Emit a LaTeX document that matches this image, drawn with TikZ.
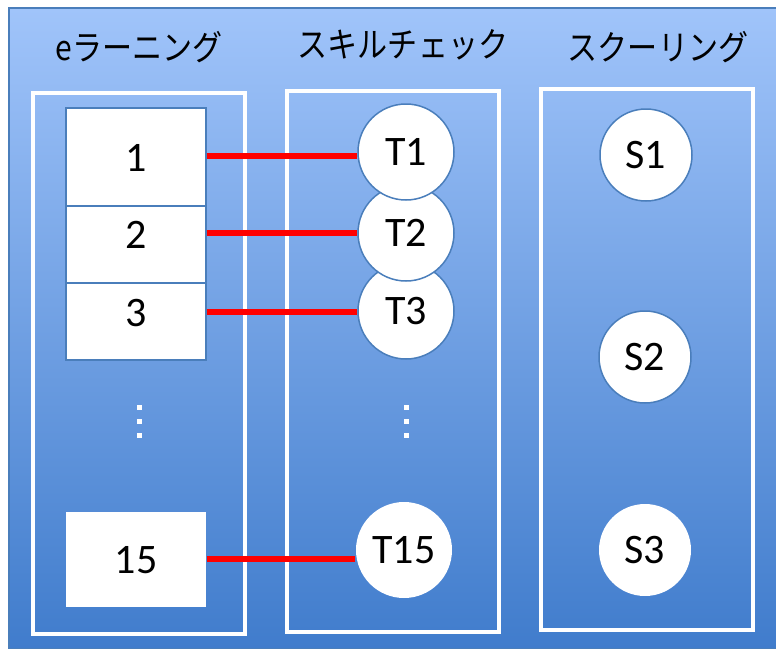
\documentclass[tikz,border=0pt]{standalone}
\usepackage{fontspec}
\usepackage{graphicx}
\setmainfont{Carlito}
\newfontfamily\jp{Noto Sans CJK JP}
\definecolor{bgtop}{RGB}{160,196,250}
\definecolor{bgbot}{RGB}{64,124,204}
\definecolor{edge}{RGB}{74,126,187}
\definecolor{redline}{RGB}{255,0,0}
\newcommand{\headtext}[1]{\scalebox{0.97}[1.12]{\jp\fontsize{31}{33}\selectfont #1}}
\tikzset{
  colframe/.style={draw=white, line width=4pt, minimum width=212pt, minimum height=541pt, inner sep=0pt},
  heading/.style={inner sep=0pt},
  lesson/.style={draw=edge, line width=1.2pt, fill=white, minimum width=140pt, inner sep=0pt},
  num/.style={font=\fontsize{42}{46}\selectfont, inner sep=0pt},
  test/.style={circle, draw=edge, line width=1.5pt, fill=white, minimum size=96pt, inner sep=0pt, font=\fontsize{42}{46}\selectfont},
  link/.style={draw=redline, line width=5.5pt},
  dotmark/.style={fill=white}
}
\begin{document}
\begin{tikzpicture}[x=1pt,y=-1pt]
\useasboundingbox (0,0) rectangle (776,648);
\fill[white] (0,0) rectangle (776,648);
\shade[top color=bgtop, bottom color=bgbot, draw=edge, line width=2pt] (9,8) rectangle (777,649);
% headings
\node[heading] (hA) at (139,47) {\headtext{eラーニング}};
\node[heading] (hB) at (403,45) {\headtext{スキルチェック}};
\node[heading] (hC) at (658,47) {\headtext{スクーリング}};
% column frames
\node[colframe] (colA) at (139,363.5) {};
\node[colframe] (colB) at (392.5,361.5) {};
\node[colframe] (colC) at (646.5,359.5) {};
% lesson boxes
\node[lesson, minimum height=98pt] (box1) at (136,157) {};
\node[lesson, minimum height=77pt] (box2) at (136,244.5) {};
\node[lesson, minimum height=77pt] (box3) at (136,321.5) {};
\node[lesson, draw=none, minimum height=95pt] (box15) at (136,559.5) {};
\node[num] (n1) at (136,158) {1};
\node[num] (n2) at (136,235) {2};
\node[num] (n3) at (136,313) {3};
\node[num] (n15) at (136,560) {15};
% dots
\foreach \yy in {407,421,435} {
  \fill[dotmark] (136.5,\yy-2.5) rectangle ++(5,5);
  \fill[dotmark] (403.5,\yy-2.5) rectangle ++(5,5);
}
% test circles (drawn bottom-up so T1 lies on top)
\node[test] (t3) at (406,311) {T3};
\node[test] (t2) at (406,233) {T2};
\node[test] (t1) at (406,152) {T1};
\node[test, draw=none] (t15) at (404,550) {T15};
% school circles
\node[test, minimum size=92pt] (s1) at (646,155) {S1};
\node[test, minimum size=92pt] (s2) at (645,357) {S2};
\node[test, minimum size=92pt, draw=none] (s3) at (645,550) {S3};
% links
\draw[link] (box1.east |- 0,156) -- (t1.west |- 0,156);
\draw[link] (box2.east |- t2.west) -- (t2.west);
\draw[link] (box3.east |- 0,312) -- (t3.west |- 0,312);
\draw[link] (box15.east |- 0,559) -- (t15.west |- 0,559);
\end{tikzpicture}
\end{document}
